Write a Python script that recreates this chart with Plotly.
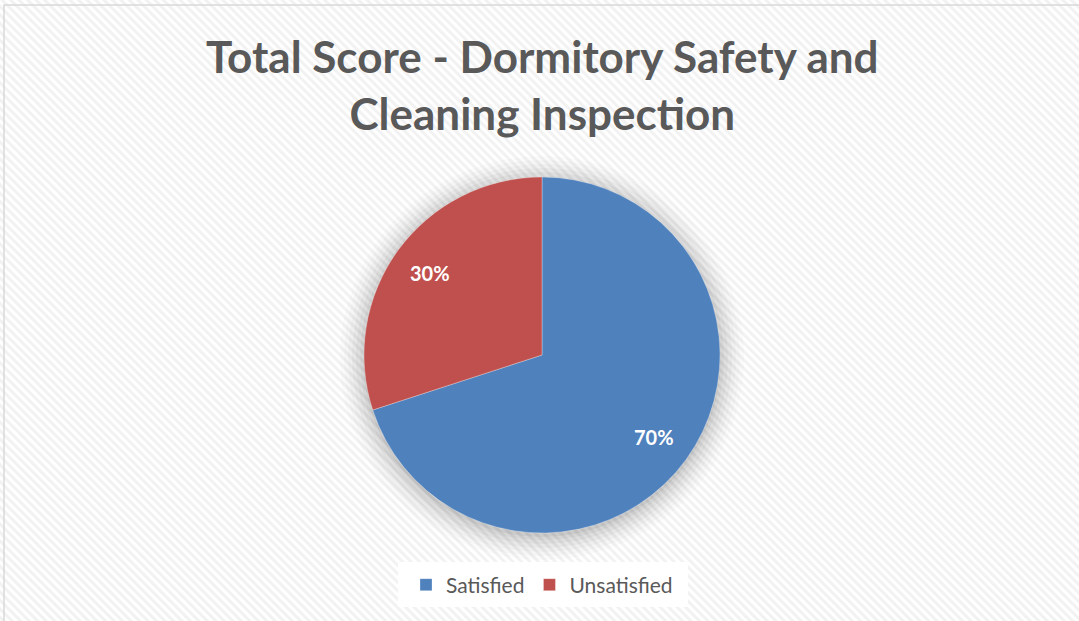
import plotly.graph_objects as go
import base64
import math

labels = ["Satisfied", "Unsatisfied"]
values = [70, 30]
colors = ["#4F81BD", "#C0504D"]
title_lines = ["Total Score - Dormitory Safety and", "Cleaning Inspection"]

W, H = 1079, 621

svg = f'''<svg xmlns="http://www.w3.org/2000/svg" width="{W}" height="{H}">
<defs><pattern id="p" width="6" height="6" patternUnits="userSpaceOnUse" patternTransform="rotate(-45)">
<rect width="6" height="6" fill="#ffffff"/><rect width="3" height="6" fill="#f2f2f2"/></pattern></defs>
<rect width="{W}" height="{H}" fill="url(#p)"/></svg>'''
src = "data:image/svg+xml;base64," + base64.b64encode(svg.encode()).decode()

cx, cy, r = 542, 355, 178
dom_x = [(cx - r) / W, (cx + r) / W]
dom_y = [1 - (cy + r) / H, 1 - (cy - r) / H]

fig = go.Figure()
fig.add_trace(go.Pie(
    labels=labels, values=values, sort=False, direction="clockwise", rotation=0,
    marker=dict(colors=colors, line=dict(color="rgba(255,255,255,0.6)", width=0.5)),
    textinfo="none",
    hoverinfo="label+percent",
    domain=dict(x=dom_x, y=dom_y),
))

annotations = []
total = sum(values)
cum = 0
for v in values:
    mid = (cum + v / 2) / total * 2 * math.pi
    cum += v
    px = cx + 0.78 * r * math.sin(mid)
    py = cy - 0.78 * r * math.cos(mid)
    annotations.append(dict(text=f"{round(v / total * 100)}%", x=px / W, y=1 - py / H,
                            xref="paper", yref="paper", showarrow=False,
                            xanchor="center", yanchor="middle",
                            font=dict(family="Lato", size=20, color="white", weight="bold")))
annotations.append(dict(text="<br>".join(title_lines), x=542 / W, y=1 - 28 / H, xref="paper", yref="paper",
                        xanchor="center", yanchor="top", showarrow=False, align="center",
                        font=dict(family="Lato", size=44, color="#595959", weight="bold")))

shapes = [dict(type="rect", xref="paper", yref="paper", x0=4 / W, y0=-0.01, x1=1.01, y1=1 - 5 / H,
               line=dict(color="#d9d9d9", width=1.5), fillcolor="rgba(0,0,0,0)", layer="above")]
for d, a in [(24, 0.015), (20, 0.02), (16, 0.025), (12, 0.03), (8, 0.035), (4, 0.04), (1, 0.05)]:
    rr = r + d
    shapes.append(dict(type="circle", xref="paper", yref="paper",
                       x0=(cx - rr) / W, x1=(cx + rr) / W,
                       y0=1 - (cy + 3 + rr) / H, y1=1 - (cy + 3 - rr) / H,
                       line=dict(width=0), fillcolor=f"rgba(0,0,0,{a})", layer="below"))
shapes.append(dict(type="rect", xref="paper", yref="paper", x0=398 / W, x1=688 / W,
                   y0=1 - 607 / H, y1=1 - 562 / H, line=dict(width=0), fillcolor="white", layer="below"))

fig.update_layout(
    width=W, height=H,
    margin=dict(l=0, r=0, t=0, b=0),
    paper_bgcolor="white", plot_bgcolor="white",
    images=[dict(source=src, xref="paper", yref="paper", x=0, y=1, sizex=1, sizey=1,
                 xanchor="left", yanchor="top", sizing="stretch", layer="below")],
    shapes=shapes,
    annotations=annotations,
    showlegend=True,
    legend=dict(orientation="h", x=542 / W, xanchor="center", y=1 - 585 / H, yanchor="middle",
                font=dict(family="Lato", size=21, color="#595959"), bgcolor="rgba(0,0,0,0)",
                itemwidth=30, traceorder="normal"),
)

fig.write_html("out.html", config={"displayModeBar": False},
               post_script="document.body.style.margin='0px';document.body.style.overflow='hidden';")
